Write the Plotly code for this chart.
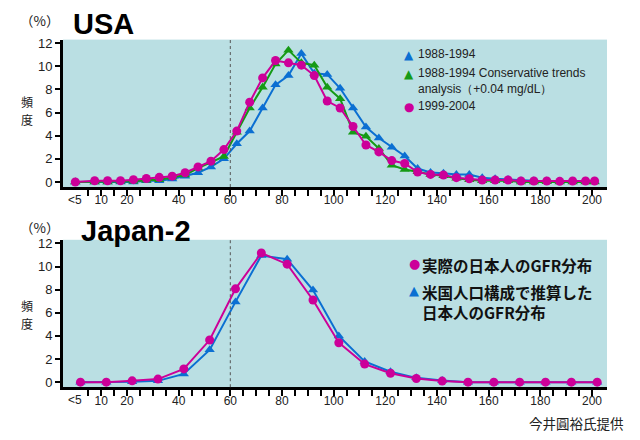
import plotly.graph_objects as go

# ---------------- data ----------------
usa_x = [0, 7.5, 12.5, 17.5, 22.5, 27.5, 32.5, 37.5, 42.5, 47.5, 52.5, 57.5,
         62.5, 67.5, 72.5, 77.5, 82.5, 87.5, 92.5, 97.5, 102.5, 107.5, 112.5,
         117.5, 122.5, 127.5, 132.5, 137.5, 142.5, 147.5, 152.5, 157.5, 162.5,
         167.5, 172.5, 177.5, 182.5, 187.5, 192.5, 197.5, 201]
usa_1988 = [0, 0, 0, 0, 0, 0.1, 0.1, 0.25, 0.5, 0.8, 1.3, 2.0,
            3.3, 4.4, 6.4, 8.4, 9.2, 11.1, 9.4, 9.3, 8.1, 6.4, 4.75,
            3.8, 3.0, 2.24, 1.16, 0.82, 0.76, 0.65, 0.65, 0.37, 0.28,
            0.22, 0.11, 0.1, 0.08, 0.06, 0.06, 0.06, 0.06]
usa_1988_cons = [0, 0, 0, 0.05, 0.05, 0.15, 0.2, 0.4, 0.6, 1.2, 1.7, 2.2,
                 4.3, 6.4, 8.2, 10.2, 11.4, 10.3, 10.1, 8.2, 7.2, 4.3, 3.95,
                 2.9, 1.45, 1.08, 0.88, 0.65, 0.54, 0.31, 0.2, 0.11, 0.11,
                 0.11, 0.0, 0.0, 0.02, 0, 0, 0, 0]
usa_1999 = [0, 0.1, 0.1, 0.1, 0.2, 0.3, 0.4, 0.5, 0.8, 1.3, 1.8, 2.8,
            4.4, 6.9, 9.0, 10.5, 10.3, 10.1, 9.2, 7.0, 6.4, 4.8, 3.2,
            2.6, 1.85, 1.6, 0.85, 0.65, 0.6, 0.37, 0.28, 0.17, 0.17,
            0.17, 0.08, 0.08, 0.08, 0.05, 0.08, 0.08, 0.08]

jp_x = [2, 12, 22, 32, 42, 52, 62, 72, 82, 92, 102, 112, 122, 132, 142,
        152, 162, 172, 182, 192, 202]
jp_actual = [0, 0, 0.11, 0.26, 1.14, 3.64, 8.07, 11.17, 10.2, 7.1, 3.41,
             1.56, 0.77, 0.31, 0.09, 0, 0, 0, 0, 0, 0]
jp_us_est = [0, 0, 0.03, 0.11, 0.71, 2.79, 6.94, 10.95, 10.63, 7.96, 4.0,
             1.79, 0.9, 0.37, 0.14, 0, 0, 0, 0, 0, 0]

x_tick_vals = [10, 20, 40, 60, 80, 100, 120, 140, 160, 180, 200]
x_tick_text = ["10", "20", "40", "60", "80", "100", "120", "140", "160", "180", "200"]
first_bin_label = "<5"
first_bin_x = 0
y_tick_vals = [0, 2, 4, 6, 8, 10, 12]
ref_line_x = 60

usa_names = ["1988-1994", "1988-1994 Conservative trends<br>analysis（+0.04 mg/dL）", "1999-2004"]
jp_names = ["実際の日本人のGFR分布", "米国人口構成で推算した<br>日本人のGFR分布"]

# ---------------- style ----------------
BLUE = "#0B6FD2"
GREEN = "#159A15"
MAGENTA = "#CC0099"
BG = "#BADFE3"
LATIN = "Liberation Sans, Arial, sans-serif"
CJK = "Noto Sans CJK JP, sans-serif"
SYM = "DejaVu Sans, sans-serif"

OFF = 8                      # page body margin of the html page
W, H = 640 - OFF, 440 - OFF
L = 63 - OFF
R = W - (607.5 - OFF)


def px_x(p):                 # screen px -> paper x
    return (p - OFF - L) / (W - L - R)


def px_y(p):                 # screen px -> paper y
    return 1 - (p - OFF) / H


fig = go.Figure()

fig.add_trace(go.Scatter(x=usa_x, y=usa_1988, mode="lines+markers", name=usa_names[0],
                         line=dict(color=BLUE, width=2),
                         marker=dict(symbol="triangle-up", size=9, color=BLUE),
                         xaxis="x", yaxis="y", showlegend=False))
fig.add_trace(go.Scatter(x=usa_x, y=usa_1988_cons, mode="lines+markers", name=usa_names[1],
                         line=dict(color=GREEN, width=2),
                         marker=dict(symbol="triangle-up", size=9, color=GREEN),
                         xaxis="x", yaxis="y", showlegend=False))
fig.add_trace(go.Scatter(x=usa_x, y=usa_1999, mode="lines+markers", name=usa_names[2],
                         line=dict(color=MAGENTA, width=2),
                         marker=dict(symbol="circle", size=9, color=MAGENTA),
                         xaxis="x", yaxis="y", showlegend=False))
fig.add_trace(go.Scatter(x=jp_x, y=jp_us_est, mode="lines+markers", name=jp_names[1],
                         line=dict(color=BLUE, width=2),
                         marker=dict(symbol="triangle-up", size=9, color=BLUE),
                         xaxis="x2", yaxis="y2", showlegend=False))
fig.add_trace(go.Scatter(x=jp_x, y=jp_actual, mode="lines+markers", name=jp_names[0],
                         line=dict(color=MAGENTA, width=2),
                         marker=dict(symbol="circle", size=9, color=MAGENTA),
                         xaxis="x2", yaxis="y2", showlegend=False))

minor_vals = list(range(5, 205, 5))

xaxis_common = dict(
    range=[-4.76, 205.8], showgrid=False, zeroline=False,
    showline=True, linecolor="black", linewidth=3,
    ticks="outside", ticklen=6, tickwidth=1.5, tickcolor="black",
    tickmode="array", tickvals=x_tick_vals, ticktext=x_tick_text,
    ticklabelstandoff=-6,
    tickfont=dict(family=LATIN, size=12, color="#222"),
    minor=dict(tickmode="array", tickvals=minor_vals, ticks="outside",
               ticklen=6, tickwidth=1.5, tickcolor="black", showgrid=False),
    fixedrange=True,
)
yaxis_common = dict(
    range=[-0.44, 12.31], showgrid=False, zeroline=False,
    showline=True, linecolor="black", linewidth=3,
    ticks="outside", ticklen=5, tickwidth=1.5, tickcolor="black",
    tickmode="array", tickvals=y_tick_vals,
    tickfont=dict(family=LATIN, size=13, color="#222"),
    fixedrange=True,
)

top_dom = [px_y(185.5), px_y(36)]
bot_dom = [px_y(388.5), px_y(239)]

fig.update_layout(
    width=W, height=H,
    margin=dict(l=L, r=R, t=0, b=0),
    paper_bgcolor="white", plot_bgcolor=BG,
    xaxis=dict(xaxis_common, domain=[0, 1], anchor="y"),
    yaxis=dict(yaxis_common, domain=top_dom, anchor="x"),
    xaxis2=dict(xaxis_common, domain=[0, 1], anchor="y2"),
    yaxis2=dict(yaxis_common, domain=bot_dom, anchor="x2"),
    showlegend=False,
)

for xr, yr in (("x", "y domain"), ("x2", "y2 domain")):
    fig.add_shape(type="line", xref=xr, yref=yr, x0=ref_line_x, x1=ref_line_x, y0=0, y1=1,
                  line=dict(color="#555", width=1, dash="dot"), layer="above")

LSH = 3   # visual correction for latin middle-anchored text
ann = []
for xr, yr in (("x", "y domain"), ("x2", "y2 domain")):
    ann.append(dict(x=first_bin_x, y=0, xref=xr, yref=yr, text=first_bin_label,
                    showarrow=False, xanchor="center", yanchor="middle", yshift=-12.5,
                    font=dict(family=LATIN, size=12, color="#222")))

ann.append(dict(x=px_x(71.5), y=px_y(24.5 - 4), xref="paper", yref="paper", text="<b>USA</b>",
                showarrow=False, xanchor="left", yanchor="middle",
                font=dict(family=LATIN, size=29, color="black")))
ann.append(dict(x=px_x(79.5), y=px_y(234 - 4), xref="paper", yref="paper", text="<b>Japan-2</b>",
                showarrow=False, xanchor="left", yanchor="middle",
                font=dict(family=LATIN, size=29, color="black")))

for yy in (16, 226):
    ann.append(dict(x=px_x(39), y=px_y(yy), xref="paper", yref="paper", text="（%）",
                    showarrow=False, xanchor="center", yanchor="middle",
                    font=dict(family=CJK, size=13.5, color="#222")))
for y1, y2 in ((98.5, 117), (306, 324)):
    ann.append(dict(x=px_x(27), y=px_y(y1), xref="paper", yref="paper", text="頻",
                    showarrow=False, xanchor="center", yanchor="middle",
                    font=dict(family=CJK, size=12, color="#222")))
    ann.append(dict(x=px_x(27), y=px_y(y2), xref="paper", yref="paper", text="度",
                    showarrow=False, xanchor="center", yanchor="middle",
                    font=dict(family=CJK, size=12, color="#222")))

# top legend
top_leg = [("▲", BLUE, usa_names[0], 54, 54), ("▲", GREEN, usa_names[1], 73, 80.6),
           ("●", MAGENTA, usa_names[2], 106, 106)]
for sym, col, name, ys, yt in top_leg:
    ann.append(dict(x=px_x(409.5), y=px_y(ys - 2), xref="paper", yref="paper", text=sym,
                    showarrow=False, xanchor="center", yanchor="middle",
                    font=dict(family=SYM, size=12, color=col)))
    ann.append(dict(x=px_x(416), y=px_y(yt - LSH), xref="paper", yref="paper", text=name,
                    showarrow=False, xanchor="left", yanchor="middle", align="left",
                    font=dict(family=LATIN, size=12, color="#222")))

# bottom legend
bot_leg = [("●", MAGENTA, jp_names[0], 265, 265), ("▲", BLUE, jp_names[1], 292, 301.7)]
for sym, col, name, ys, yt in bot_leg:
    ann.append(dict(x=px_x(414.5), y=px_y(ys - 2), xref="paper", yref="paper", text=sym,
                    showarrow=False, xanchor="center", yanchor="middle",
                    font=dict(family=SYM, size=13, color=col)))
    ann.append(dict(x=px_x(420.5), y=px_y(yt), xref="paper", yref="paper",
                    text="<b>" + name.replace("<br>", "</b><br><b>") + "</b>",
                    showarrow=False, xanchor="left", yanchor="middle", align="left",
                    font=dict(family=CJK, size=15.5, color="#111")))

ann.append(dict(x=px_x(627), y=px_y(425), xref="paper", yref="paper", text="今井圓裕氏提供",
                showarrow=False, xanchor="right", yanchor="middle",
                font=dict(family=CJK, size=13.5, color="#222")))

fig.update_layout(annotations=ann)
fig.write_html("out.html")
